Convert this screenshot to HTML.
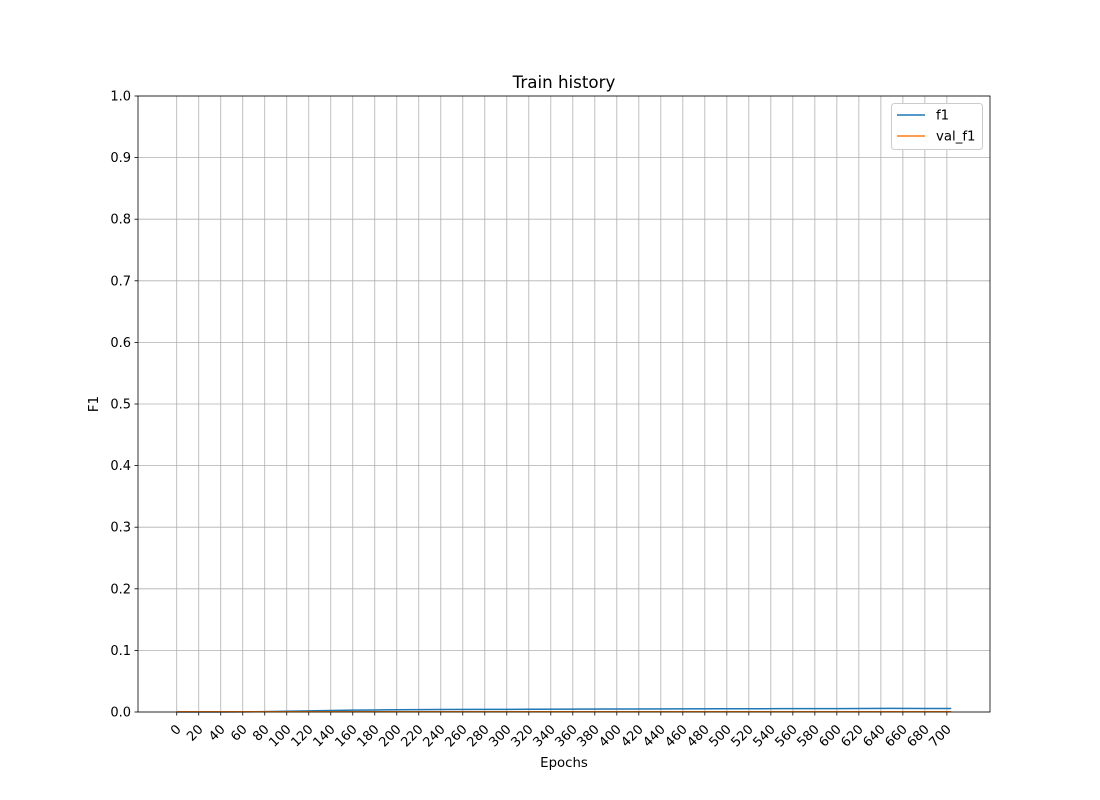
<!DOCTYPE html>
<html><head><meta charset="utf-8"><style>
body{margin:0;background:#fff;}
svg{display:block;font-family:"DejaVu Sans","Liberation Sans",sans-serif;}
</style></head><body>
<svg id="chart" width="1100" height="800" viewBox="0 0 1100 800"></svg>
<script>
const epochs = [0,20,40,60,80,100,120,140,160,180,200,240,280,320,360,400,450,500,550,600,650,680,704];
const f1Values = [0,0,0,0.0003,0.0006,0.0012,0.0018,0.0024,0.003,0.0033,0.0036,0.004,0.0042,0.0044,0.0046,0.0048,0.005,0.0052,0.0054,0.0055,0.0058,0.0056,0.0057];
const valF1Values = [0.0004,0.0004,0.0004,0.0004,0.0004,0.0004,0.0004,0.0004,0.0004,0.0004,0.0004,0.0004,0.0004,0.0004,0.0004,0.0004,0.0004,0.0004,0.0004,0.0004,0.0004,0.0004,0.0004];
const xTicks = Array.from({length:36},(_, i)=>i*20);
const yTicks = [0,0.1,0.2,0.3,0.4,0.5,0.6,0.7,0.8,0.9,1.0];

const NS="http://www.w3.org/2000/svg";
const svg=document.getElementById('chart');
const L=138,R=990,T=96,B=712;
const xMin=-35.2,xMax=739.2,yMin=0,yMax=1;
const xs=v=>L+(v-xMin)/(xMax-xMin)*(R-L);
const ys=v=>B-(v-yMin)/(yMax-yMin)*(B-T);
function mk(tag,attrs,parent){const e=document.createElementNS(NS,tag);for(const k in attrs)e.setAttribute(k,attrs[k]);(parent||svg).appendChild(e);return e;}

const grid=mk('g',{});


xTicks.forEach(t=>{const x=xs(t);mk('line',{x1:x,x2:x,y1:T,y2:B,stroke:'#b0b0b0','stroke-width':0.8},grid);});
yTicks.forEach(t=>{const y=ys(t);mk('line',{x1:L,x2:R,y1:y,y2:y,stroke:'#b0b0b0','stroke-width':0.8},grid);});

const xAxis=mk('g',{});


xTicks.forEach(t=>{const x=xs(t);mk('line',{x1:x,x2:x,y1:B,y2:B+3.5,stroke:'#000','stroke-width':0.8},xAxis);
 const ax=x+5, ay=B+18;
 const tx=mk('text',{x:ax,y:ay,'font-size':13,'text-anchor':'end',transform:`rotate(-45 ${ax} ${ay})`},xAxis);tx.textContent=t;
 
 });
const yAxis=mk('g',{});


yTicks.forEach(t=>{const y=ys(t);mk('line',{x1:L-3.5,x2:L,y1:y,y2:y,stroke:'#000','stroke-width':0.8},yAxis);
 const tx=mk('text',{x:L-7,y:y+4.5,'font-size':13,'text-anchor':'end'},yAxis);tx.textContent=t.toFixed(1);
 
 });

function series(vals,color,name){const p=mk('polyline',{points:epochs.map((e,i)=>xs(e)+','+ys(vals[i])).join(' '),fill:'none',stroke:color,'stroke-width':1.5});
 
 }
series(f1Values,'#1f77b4','f1-line');
series(valF1Values,'#ff7f0e','val-f1-line');

const frame=mk('rect',{x:L,y:T,width:R-L,height:B-T,fill:'none',stroke:'#000','stroke-width':0.8});



const title=mk('text',{x:(L+R)/2,y:88,'font-size':16.7,'text-anchor':'middle'});title.textContent='Train history';


const xl=mk('text',{x:(L+R)/2,y:767,'font-size':13.3,'text-anchor':'middle'});xl.textContent='Epochs';


const yl=mk('text',{x:98,y:404,'font-size':13.3,'text-anchor':'middle',transform:'rotate(-90 98 404)'});yl.textContent='F1';



const leg=mk('g',{});


mk('rect',{x:891.5,y:103.5,width:91,height:46,rx:3,fill:'#fff',stroke:'#ccc','stroke-width':1},leg);
[['f1','#1f77b4',115],['val_f1','#ff7f0e',136]].forEach(([n,c,y])=>{
 const g=mk('g',{},leg);
 
 
 mk('line',{x1:897,x2:925,y1:y,y2:y,stroke:c,'stroke-width':1.5},g);
 const t=mk('text',{x:936,y:y+4.5,'font-size':13.3},g);t.textContent=n;});
</script>
</body></html>
